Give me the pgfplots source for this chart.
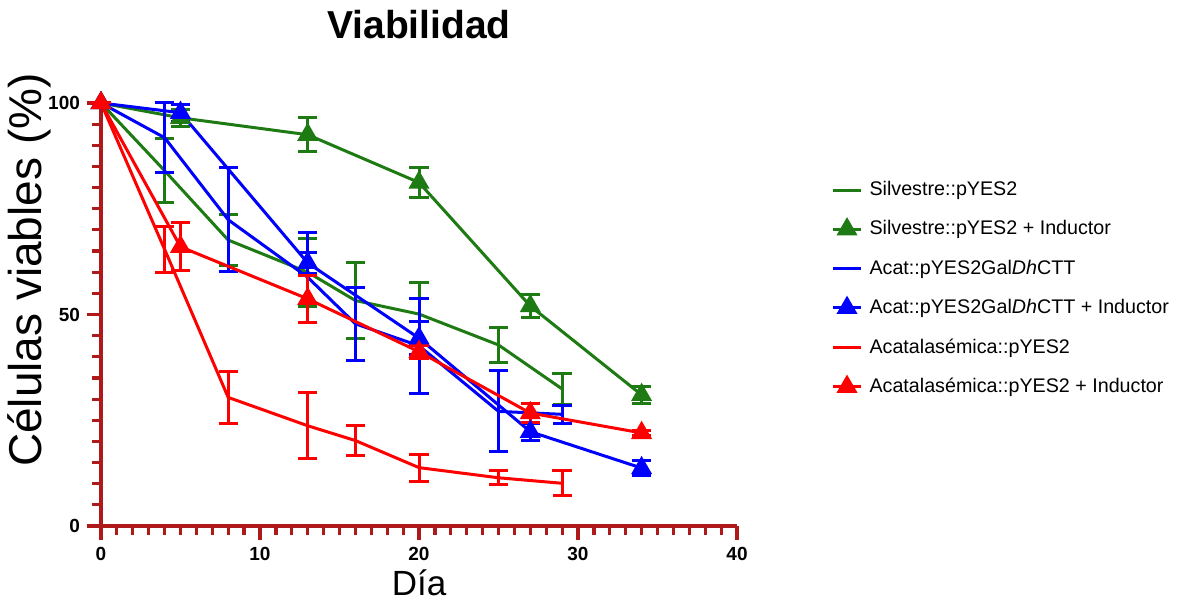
\documentclass[border=0pt]{standalone}
\usepackage{fontspec}
\setmainfont{Liberation Sans}
\usepackage{pgfplots}
\pgfplotsset{compat=1.18}
\definecolor{axred}{RGB}{175,25,25}
\definecolor{sgreen}{RGB}{30,122,18}
\definecolor{sblue}{RGB}{0,0,255}
\definecolor{sred}{RGB}{255,0,0}
\pgfplotsset{
  eb/.style={error bars/.cd, y dir=both, y explicit,
    error bar style={line width=1.5pt,solid},
    error mark options={rotate=90,mark size=4.8pt,line width=1.5pt}},
}
\begin{document}
\begin{tikzpicture}
\useasboundingbox (-50.5pt,-40pt) rectangle (539pt,263pt);
\begin{axis}[
  at={(0,0)}, anchor=south west,
  scale only axis, width=318pt, height=211.5pt,
  xmin=0, xmax=40, ymin=0, ymax=100,
  axis lines=left, axis line style={-, axred, line width=1.6pt},
  xtick={0,10,20,30,40}, ytick={0,50,100},
  minor x tick num=9, minor y tick num=9,
  tick align=outside,
  major tick style={axred, line width=1.6pt},
  minor tick style={axred, line width=1.6pt},
  major tick length=7pt, minor tick length=4.5pt,
  ticklabel style={font=\fontsize{9.5}{10}\selectfont\bfseries},
  /pgf/number format/assume math mode=true,
  clip=false,
  title={Viabilidad},
  title style={font=\fontsize{19.5}{22}\selectfont\bfseries, at={(axis description cs:0.5,1)}, anchor=center, yshift=33pt},
  xlabel={Día},
  xlabel style={font=\fontsize{17.5}{20}\selectfont, at={(axis description cs:0.5,0)}, anchor=center, yshift=-28.5pt},
  ylabel={Células viables (\%)},
  ylabel style={font=\fontsize{23}{26}\selectfont, at={(axis description cs:-0.1132,0.605)}, anchor=center},
  legend style={at={(axis description cs:1.148,0.825)}, anchor=north west, draw=none, fill=none,
    font=\fontsize{9.85}{11}\selectfont, row sep=7pt, inner sep=0pt, cells={anchor=west},
    /tikz/every odd column/.append style={column sep=1.5pt}},
  legend image code/.code={\draw[mark repeat=2,mark phase=2] plot coordinates {(0pt,0pt)(7pt,0pt)(14pt,0pt)};},
  every axis plot/.append style={line width=1.5pt},
]
% Silvestre::pYES2
\addplot[sgreen, mark=none, eb] coordinates {
  (0,100) +- (0,0)
  (4,84) +- (0,7.5)
  (8,67.6) +- (0,6)
  (13,60) +- (0,8)
  (16,53.3) +- (0,9)
  (20,50.1) +- (0,7.5)
  (25,42.8) +- (0,4.2)
  (29,32.4) +- (0,3.6)
};
\addlegendentry{Silvestre::pYES2}
% Silvestre::pYES2 + Inductor
\addplot[sgreen, mark=triangle*, mark size=4.6pt, mark options={solid,fill=sgreen}, eb] coordinates {
  (0,100) +- (0,0)
  (5,96.5) +- (0,2)
  (13,92.5) +- (0,4)
  (20,81.2) +- (0,3.6)
  (27,52) +- (0,2.8)
  (34,31) +- (0,2)
};
\addlegendentry{Silvestre::pYES2 + Inductor}
% Acat::pYES2GalDhCTT
\addplot[sblue, mark=none, eb] coordinates {
  (0,100) +- (0,0)
  (4,91.8) +- (0,8.2)
  (8,72.4) +- (0,12.3)
  (13,58.8) +- (0,10.7)
  (16,47.8) +- (0,8.7)
  (20,42.6) +- (0,11.3)
  (25,27.1) +- (0,9.6)
  (29,26.4) +- (0,2.2)
};
\addlegendentry{Acat::pYES2Gal\textit{Dh}CTT}
% Acat::pYES2GalDhCTT + Inductor
\addplot[sblue, mark=triangle*, mark size=4.6pt, mark options={solid,fill=sblue}, eb] coordinates {
  (0,100) +- (0,0)
  (5,97.7) +- (0,2)
  (13,62.2) +- (0,2.5)
  (20,44.4) +- (0,3.9)
  (27,22.3) +- (0,2)
  (34,13.7) +- (0,1.8)
};
\addlegendentry{Acat::pYES2Gal\textit{Dh}CTT + Inductor}
% Acatalasemica::pYES2
\addplot[sred, mark=none, eb] coordinates {
  (0,100) +- (0,0)
  (4,65.4) +- (0,5.5)
  (8,30.4) +- (0,6.1)
  (13,23.7) +- (0,7.8)
  (16,20.2) +- (0,3.6)
  (20,13.8) +- (0,3.2)
  (25,11.4) +- (0,1.7)
  (29,10.1) +- (0,3)
};
\addlegendentry{Acatalasémica::pYES2}
% Acatalasemica::pYES2 + Inductor
\addplot[sred, mark=triangle*, mark size=4.6pt, mark options={solid,fill=sred}, eb] coordinates {
  (0,100) +- (0,0)
  (5,66) +- (0,5.7)
  (13,53.7) +- (0,5.5)
  (20,41.2) +- (0,1.5)
  (27,26.7) +- (0,2.3)
  (34,22) +- (0,0.5)
};
\addlegendentry{Acatalasémica::pYES2 + Inductor}
\end{axis}
\end{tikzpicture}
\end{document}
